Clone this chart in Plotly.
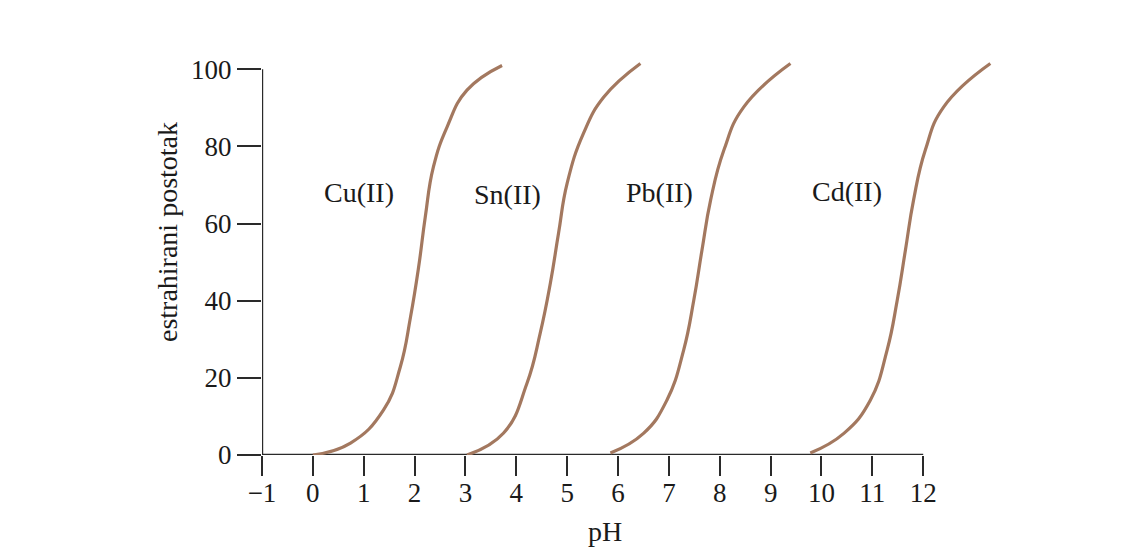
import plotly.graph_objects as go

# Data
cu_ph = [0.0, 0.74, 1.39, 1.72, 1.92, 2.08, 2.21, 2.37, 2.64, 3.03, 3.72]
cu_pct = [0.0, 3.1, 11.7, 22.9, 35.8, 48.8, 61.7, 74.7, 85.1, 94.6, 101.0]

sn_ph = [3.03, 3.75, 4.21, 4.47, 4.67, 4.83, 5.00, 5.32, 5.72, 6.44]
sn_pct = [0.0, 5.7, 18.6, 31.6, 44.6, 57.5, 70.5, 83.4, 92.8, 101.5]

pb_ph = [5.85, 6.50, 6.96, 7.29, 7.49, 7.65, 7.82, 8.08, 8.47, 9.39]
pb_pct = [0.5, 5.6, 14.2, 27.2, 40.2, 53.1, 66.1, 79.0, 90.2, 101.5]

cd_ph = [9.78, 10.44, 10.96, 11.29, 11.49, 11.65, 11.81, 12.04, 12.40, 13.32]
cd_pct = [0.5, 5.6, 14.2, 27.2, 40.2, 53.1, 66.1, 79.0, 90.2, 101.5]

labels = ["Cu(II)", "Sn(II)", "Pb(II)", "Cd(II)"]
label_ph = [0.91, 3.82, 6.81, 10.51]
label_pct = [68, 67.5, 68, 68.2]

x_ticks = list(range(-1, 13))
y_ticks = [0, 20, 40, 60, 80, 100]

FONT = "Liberation Serif, Times New Roman, serif"
CURVE = "#a3785f"
AXIS = "#2a2a2a"
TEXT = "#1a1a1a"

fig = go.Figure()
for xs, ys in [(cu_ph, cu_pct), (sn_ph, sn_pct), (pb_ph, pb_pct), (cd_ph, cd_pct)]:
    fig.add_trace(go.Scatter(x=xs, y=ys, mode="lines",
                             line=dict(color=CURVE, width=3.2, shape="spline", smoothing=1.3),
                             showlegend=False, hoverinfo="skip"))

for t, xv, yv in zip(labels, label_ph, label_pct):
    fig.add_annotation(x=xv, y=yv, text=t, showarrow=False,
                       font=dict(family=FONT, size=28, color=TEXT))

# axis lines (limited to the tick range)
fig.add_shape(type="line", x0=x_ticks[0], x1=x_ticks[-1], y0=0, y1=0,
              xref="x", yref="y", line=dict(color=AXIS, width=2.4), layer="below")
fig.add_shape(type="line", x0=x_ticks[0], x1=x_ticks[0], y0=0, y1=y_ticks[-1],
              xref="x", yref="y", line=dict(color=AXIS, width=2.4), layer="below")

fig.add_annotation(x=-0.129, xref="paper", y=57.8, yref="y", text="estrahirani postotak",
                   textangle=-90, showarrow=False, xanchor="center", yanchor="middle",
                   font=dict(family=FONT, size=28, color=TEXT))
fig.add_annotation(x=5.75, xref="x", y=-0.193, yref="paper", text="pH",
                   showarrow=False, xanchor="center", yanchor="middle",
                   font=dict(family=FONT, size=28, color=TEXT))

fig.update_layout(
    width=1132, height=555,
    margin=dict(l=254, r=141, t=49, b=108),
    paper_bgcolor="white", plot_bgcolor="white",
    xaxis=dict(range=[-1, 13.49], tickvals=x_ticks, ticktext=[str(v).replace("-", "\u2212") for v in x_ticks],
               ticks="outside", ticklen=20, tickwidth=2.2, tickcolor=AXIS,
               showline=False, showgrid=False, zeroline=False,
               tickfont=dict(family=FONT, size=27, color=TEXT), ticklabelstandoff=-6),
    yaxis=dict(range=[0, 103.2], tickvals=y_ticks,
               ticks="outside", ticklen=24, tickwidth=2.2, tickcolor=AXIS,
               showline=False, showgrid=False, zeroline=False,
               tickfont=dict(family=FONT, size=27, color=TEXT), ticklabelstandoff=0),
)

fig.write_html("out.html")
